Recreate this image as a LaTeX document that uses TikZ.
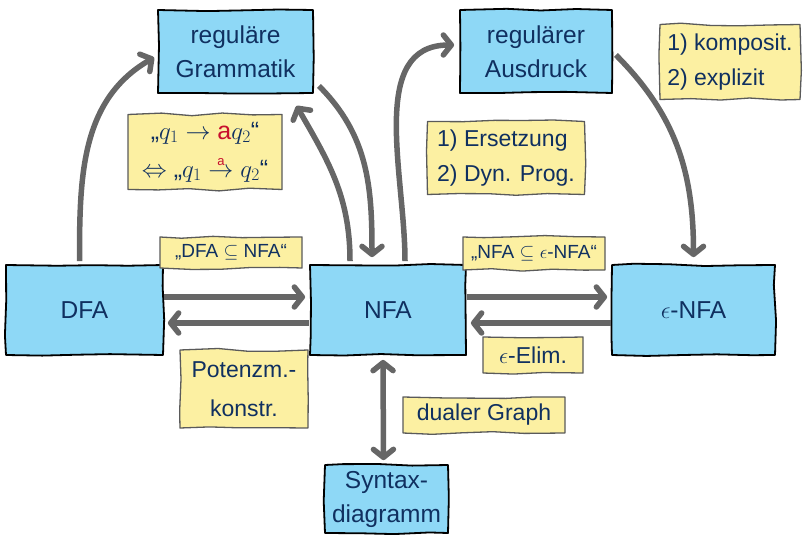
\RequirePackage{fix-cm}
\documentclass[tikz,border=0pt]{standalone}
\usepackage{fontspec}
\setmainfont{Liberation Sans}
\usetikzlibrary{arrows.meta,decorations.pathmorphing,calc}
\definecolor{boxblue}{RGB}{142,216,246}
\definecolor{noteyel}{RGB}{252,240,162}
\definecolor{notedraw}{RGB}{90,90,90}
\definecolor{txtblue}{RGB}{16,48,96}
\definecolor{arrgray}{RGB}{102,102,102}
\definecolor{ared}{RGB}{200,16,46}
\begin{document}
\begin{tikzpicture}[x=1pt,y=1pt,
  box/.style={draw=black, line width=1.8pt, fill=boxblue, text=txtblue,
    font=\fontsize{24.5}{34}\selectfont, align=center, inner sep=0pt,
    line join=round, decorate,
    decoration={random steps, segment length=35pt, amplitude=1.4pt}},
  note/.style={draw=notedraw, line width=1.3pt, fill=noteyel, text=txtblue,
    font=\fontsize{23}{35}\selectfont, align=center, inner sep=0pt,
    line join=round, decorate,
    decoration={random steps, segment length=30pt, amplitude=1.5pt}},
  smallnote/.style={note, font=\fontsize{19}{22}\selectfont},
  arr/.style={draw=arrgray, line width=5.5pt,
    -{Straight Barb[length=8pt,width=20pt,round]}},
  darr/.style={draw=arrgray, line width=5.5pt,
    {Straight Barb[length=8pt,width=20pt,round]}-{Straight Barb[length=8pt,width=20pt,round]}}
]
\pgfmathsetseed{11}
\useasboundingbox (0,0) rectangle (803,539);

% boxes
\node[box, minimum width=155pt, minimum height=83pt] (gram) at (235.5,487.5) {regul\"are\\Grammatik};
\node[box, minimum width=152pt, minimum height=83pt] (ausd) at (536,487.5) {regul\"arer\\Ausdruck};
\node[box, minimum width=157pt, minimum height=90pt] (dfa) at (84.5,229) {DFA};
\node[box, minimum width=156pt, minimum height=90pt] (nfa) at (388,229) {NFA};
\node[box, minimum width=163pt, minimum height=90pt] (enfa) at (693.5,229) {$\epsilon$-NFA};
\node[box, minimum width=123pt, minimum height=68pt] (syn) at (386.5,40) {Syntax-\\diagramm};

% arrows
\draw[arr] ($(dfa.north)+(-5,3)$) to[out=90,in=-150] ($(gram.west)+(-3,-6)$);
\draw[arr] ($(nfa.north)+(-38,3)$) to[out=90,in=-60] ($(gram.south)+(61,-12)$);
\draw[arr] ($(gram.south east)+(5,8)$) to[out=-45,in=90] ($(nfa.north)+(-16,7)$);
\draw[arr] ($(nfa.north)+(17,3)$) to[out=90,in=180] ($(ausd.west)+(-5,6.5)$);
\draw[arr] ($(ausd.east)+(3,-3.5)$) to[out=-45,in=90] ($(enfa.north)+(0,7)$);
\draw[arr] ($(dfa.east)+(0,13)$) -- ($(nfa.west)+(-4,13)$);
\draw[arr] ($(nfa.west)+(0,-13)$) -- ($(dfa.east)+(4,-13)$);
\draw[arr] ($(nfa.east)+(0,13)$) -- ($(enfa.west)+(-4,13)$);
\draw[arr] ($(enfa.west)+(0,-13)$) -- ($(nfa.east)+(4,-13)$);
\draw[darr] ($(nfa.south)+(-5,-4)$) -- ($(syn.north)+(-3,4)$);

% notes
\node[note, minimum width=154pt, minimum height=75pt, font=\fontsize{25}{38}\selectfont] (form) at (205,387)
  {„$q_1 \to \mbox{\color{ared}\fontsize{25}{25}\selectfont a}q_2$“\\
   $\Leftrightarrow$ „$q_1 \stackrel{\mbox{\color{ared}\fontsize{13}{13}\selectfont a}}{\to} q_2$“};
\node[smallnote, minimum width=142pt, minimum height=31pt] (dn) at (231,286.5) {„DFA $\subseteq$ NFA“};
\node[smallnote, minimum width=142pt, minimum height=33pt] (ne) at (534,285.5) {„NFA $\subseteq$ $\epsilon$-NFA“};
\node[note, minimum width=128pt, minimum height=78pt, font=\fontsize{23}{39}\selectfont] (pot) at (244,150) {Potenzm.-\\konstr.};
\node[note, minimum width=100pt, minimum height=36pt] (eel) at (533,184) {$\epsilon$-Elim.};
\node[note, minimum width=162pt, minimum height=36pt] (dual) at (484,124) {dualer Graph};
\node[note, minimum width=157pt, minimum height=73pt, align=left] (ers) at (506,381) {1) Ersetzung\\2) Dyn. Prog.};
\node[note, minimum width=140pt, minimum height=75pt, align=left] (komp) at (730,477) {1) komposit.\\2) explizit};
\end{tikzpicture}
\end{document}
